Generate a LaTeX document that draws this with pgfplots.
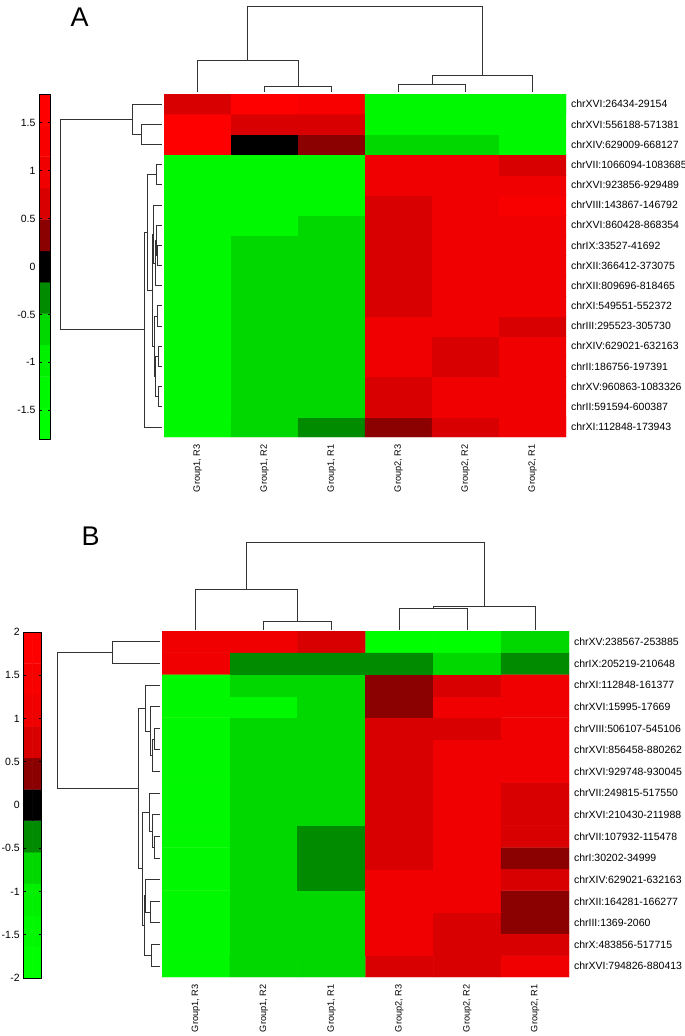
\documentclass[border=0pt]{standalone}
\usepackage{pgfplots}
\pgfplotsset{compat=1.18}
\usepackage{fontspec}
\setmainfont{Liberation Sans}
\setsansfont{Liberation Sans}
\pgfplotsset{
  colormap={rgsteps}{rgb255=(0,255,0) rgb255=(0,248,0) rgb255=(0,240,0) rgb255=(0,216,0) rgb255=(0,139,0) rgb255=(0,0,0) rgb255=(139,0,0) rgb255=(216,0,0) rgb255=(240,0,0) rgb255=(248,0,0) rgb255=(255,0,0)},
  hm/.style={scale only axis, anchor=north west, xmin=0, xmax=6,
    axis line style={draw=none}, major tick length=0pt, tick style={draw=none},
    colormap name=rgsteps, colormap access=piecewise constant,
    xtick={0.5,1.5,2.5,3.5,4.5,5.5},
    xticklabels={{Group1, R3},{Group1, R2},{Group1, R1},{Group2, R3},{Group2, R2},{Group2, R1}},
    xticklabel style={rotate=90, anchor=east, font=\fontsize{9.2}{11}\selectfont},
    xticklabel shift=4pt,
    yticklabel pos=right,
    yticklabel style={anchor=west, font=\fontsize{10.5}{12}\selectfont},
    yticklabel shift=1.5pt},
  cb/.style={scale only axis, anchor=north west, xmin=0, xmax=1, xtick=\empty,
    tick align=inside, major tick length=2.5pt, axis on top,
    axis line style={line width=0.7pt}, tick style={line width=0.6pt, black},
    yticklabel style={font=\fontsize{10.5}{12}\selectfont},
    colormap name=rgsteps, colormap access=piecewise constant},
  dend/.style={draw=black!80, line width=0.9pt}
}
\begin{document}
\begin{tikzpicture}
\path[use as bounding box] (0pt,0pt) rectangle (685pt,-1036pt);

% ---------------- Panel A heatmap ----------------
\begin{axis}[hm, at={(164pt,-94pt)}, width=402pt, height=343pt, ymin=0, ymax=17,
  point meta min=-1.8, point meta max=1.8,
  ytick={0.5,1.5,...,16.5},
  yticklabels={chrXI:112848-173943, chrII:591594-600387, chrXV:960863-1083326, chrII:186756-197391, chrXIV:629021-632163, chrIII:295523-305730, chrXI:549551-552372, chrXII:809696-818465, chrXII:366412-373075, chrIX:33527-41692, chrXVI:860428-868354, chrVIII:143867-146792, chrXVI:923856-929489, chrVII:1066094-1083685, chrXIV:629009-668127, chrXVI:556188-571381, chrXVI:26434-29154}]
\addplot[matrix plot*, mesh/cols=6, point meta=explicit] table[x=x, y=y, meta=c] {
x y c
0.5 0.5 -1.3
1.5 0.5 -0.65
2.5 0.5 -0.33
3.5 0.5 0.33
4.5 0.5 0.65
5.5 0.5 1.0
0.5 1.5 -1.3
1.5 1.5 -0.65
2.5 1.5 -0.65
3.5 1.5 0.65
4.5 1.5 1.0
5.5 1.5 1.0
0.5 2.5 -1.3
1.5 2.5 -0.65
2.5 2.5 -0.65
3.5 2.5 0.65
4.5 2.5 1.0
5.5 2.5 1.0
0.5 3.5 -1.3
1.5 3.5 -0.65
2.5 3.5 -0.65
3.5 3.5 1.0
4.5 3.5 0.65
5.5 3.5 1.0
0.5 4.5 -1.3
1.5 4.5 -0.65
2.5 4.5 -0.65
3.5 4.5 1.0
4.5 4.5 0.65
5.5 4.5 1.0
0.5 5.5 -1.3
1.5 5.5 -0.65
2.5 5.5 -0.65
3.5 5.5 1.0
4.5 5.5 1.0
5.5 5.5 0.65
0.5 6.5 -1.3
1.5 6.5 -0.65
2.5 6.5 -0.65
3.5 6.5 0.65
4.5 6.5 1.0
5.5 6.5 1.0
0.5 7.5 -1.3
1.5 7.5 -0.65
2.5 7.5 -0.65
3.5 7.5 0.65
4.5 7.5 1.0
5.5 7.5 1.0
0.5 8.5 -1.3
1.5 8.5 -0.65
2.5 8.5 -0.65
3.5 8.5 0.65
4.5 8.5 1.0
5.5 8.5 1.0
0.5 9.5 -1.3
1.5 9.5 -0.65
2.5 9.5 -0.65
3.5 9.5 0.65
4.5 9.5 1.0
5.5 9.5 1.0
0.5 10.5 -1.3
1.5 10.5 -1.3
2.5 10.5 -0.65
3.5 10.5 0.65
4.5 10.5 1.0
5.5 10.5 1.0
0.5 11.5 -1.3
1.5 11.5 -1.3
2.5 11.5 -1.3
3.5 11.5 0.65
4.5 11.5 1.0
5.5 11.5 1.3
0.5 12.5 -1.3
1.5 12.5 -1.3
2.5 12.5 -1.3
3.5 12.5 1.0
4.5 12.5 1.0
5.5 12.5 1.0
0.5 13.5 -1.3
1.5 13.5 -1.3
2.5 13.5 -1.3
3.5 13.5 1.0
4.5 13.5 1.0
5.5 13.5 0.65
0.5 14.5 1.65
1.5 14.5 0
2.5 14.5 0.33
3.5 14.5 -0.65
4.5 14.5 -0.65
5.5 14.5 -1.3
0.5 15.5 1.65
1.5 15.5 0.65
2.5 15.5 0.65
3.5 15.5 -1.3
4.5 15.5 -1.3
5.5 15.5 -1.3
0.5 16.5 0.65
1.5 16.5 1.65
2.5 16.5 1.3
3.5 16.5 -1.3
4.5 16.5 -1.3
5.5 16.5 -1.3
};
\end{axis}

% ---------------- Panel A colour bar ----------------
\begin{axis}[cb, at={(39pt,-94pt)}, width=11.5pt, height=345pt, ymin=-1.8, ymax=1.8,
  point meta min=-1.8, point meta max=1.8,
  ytick={-1.5,-1,-0.5,0,0.5,1,1.5}, yticklabels={-1.5,-1,-0.5,0,0.5,1,1.5}]
\addplot[matrix plot*, mesh/cols=2, point meta=explicit] table[x=x, y=y, meta=c] {
x y c
0.25 -1.6364 -1.6364
0.75 -1.6364 -1.6364
0.25 -1.3091 -1.3091
0.75 -1.3091 -1.3091
0.25 -0.9818 -0.9818
0.75 -0.9818 -0.9818
0.25 -0.6545 -0.6545
0.75 -0.6545 -0.6545
0.25 -0.3273 -0.3273
0.75 -0.3273 -0.3273
0.25 0 0
0.75 0 0
0.25 0.3273 0.3273
0.75 0.3273 0.3273
0.25 0.6545 0.6545
0.75 0.6545 0.6545
0.25 0.9818 0.9818
0.75 0.9818 0.9818
0.25 1.3091 1.3091
0.75 1.3091 1.3091
0.25 1.6364 1.6364
0.75 1.6364 1.6364
};
\end{axis}

% ---------------- Panel B heatmap ----------------
\begin{axis}[hm, at={(162pt,-631pt)}, width=407pt, height=346pt, ymin=0, ymax=16,
  point meta min=-2, point meta max=2,
  ytick={0.5,1.5,...,15.5},
  yticklabels={chrXVI:794826-880413, chrX:483856-517715, chrIII:1369-2060, chrXII:164281-166277, chrXIV:629021-632163, chrI:30202-34999, chrVII:107932-115478, chrXVI:210430-211988, chrVII:249815-517550, chrXVI:929748-930045, chrXVI:856458-880262, chrVIII:506107-545106, chrXVI:15995-17669, chrXI:112848-161377, chrIX:205219-210648, chrXV:238567-253885}]
\addplot[matrix plot*, mesh/cols=6, point meta=explicit] table[x=x, y=y, meta=c] {
x y c
0.5 0.5 -1.45
1.5 0.5 -0.73
2.5 0.5 -0.73
3.5 0.5 0.73
4.5 0.5 0.73
5.5 0.5 1.09
0.5 1.5 -1.45
1.5 1.5 -0.73
2.5 1.5 -0.73
3.5 1.5 1.09
4.5 1.5 0.73
5.5 1.5 0.73
0.5 2.5 -1.45
1.5 2.5 -0.73
2.5 2.5 -0.73
3.5 2.5 1.09
4.5 2.5 0.73
5.5 2.5 0.36
0.5 3.5 -1.45
1.5 3.5 -0.73
2.5 3.5 -0.73
3.5 3.5 1.09
4.5 3.5 1.09
5.5 3.5 0.36
0.5 4.5 -1.45
1.5 4.5 -0.73
2.5 4.5 -0.36
3.5 4.5 1.09
4.5 4.5 1.09
5.5 4.5 0.73
0.5 5.5 -1.45
1.5 5.5 -0.73
2.5 5.5 -0.36
3.5 5.5 0.73
4.5 5.5 1.09
5.5 5.5 0.36
0.5 6.5 -1.45
1.5 6.5 -0.73
2.5 6.5 -0.36
3.5 6.5 0.73
4.5 6.5 1.09
5.5 6.5 0.73
0.5 7.5 -1.45
1.5 7.5 -0.73
2.5 7.5 -0.73
3.5 7.5 0.73
4.5 7.5 1.09
5.5 7.5 0.73
0.5 8.5 -1.45
1.5 8.5 -0.73
2.5 8.5 -0.73
3.5 8.5 0.73
4.5 8.5 1.09
5.5 8.5 0.73
0.5 9.5 -1.45
1.5 9.5 -0.73
2.5 9.5 -0.73
3.5 9.5 0.73
4.5 9.5 1.09
5.5 9.5 1.09
0.5 10.5 -1.45
1.5 10.5 -0.73
2.5 10.5 -0.73
3.5 10.5 0.73
4.5 10.5 1.09
5.5 10.5 1.09
0.5 11.5 -1.45
1.5 11.5 -0.73
2.5 11.5 -0.73
3.5 11.5 0.73
4.5 11.5 0.73
5.5 11.5 1.09
0.5 12.5 -1.45
1.5 12.5 -1.45
2.5 12.5 -0.73
3.5 12.5 0.36
4.5 12.5 1.09
5.5 12.5 1.09
0.5 13.5 -1.45
1.5 13.5 -0.73
2.5 13.5 -0.73
3.5 13.5 0.36
4.5 13.5 0.73
5.5 13.5 1.09
0.5 14.5 1.09
1.5 14.5 -0.36
2.5 14.5 -0.36
3.5 14.5 -0.36
4.5 14.5 -0.73
5.5 14.5 -0.36
0.5 15.5 1.09
1.5 15.5 1.09
2.5 15.5 0.73
3.5 15.5 -1.82
4.5 15.5 -1.82
5.5 15.5 -0.73
};
\end{axis}

% ---------------- Panel B colour bar ----------------
\begin{axis}[cb, at={(23.3pt,-632pt)}, width=18.5pt, height=346pt, ymin=-2, ymax=2,
  point meta min=-2, point meta max=2,
  ytick={-2,-1.5,-1,-0.5,0,0.5,1,1.5,2}, yticklabels={-2,-1.5,-1,-0.5,0,0.5,1,1.5,2}]
\addplot[matrix plot*, mesh/cols=2, point meta=explicit] table[x=x, y=y, meta=c] {
x y c
0.25 -1.8182 -1.8182
0.75 -1.8182 -1.8182
0.25 -1.4545 -1.4545
0.75 -1.4545 -1.4545
0.25 -1.0909 -1.0909
0.75 -1.0909 -1.0909
0.25 -0.7273 -0.7273
0.75 -0.7273 -0.7273
0.25 -0.3636 -0.3636
0.75 -0.3636 -0.3636
0.25 0 0
0.75 0 0
0.25 0.3636 0.3636
0.75 0.3636 0.3636
0.25 0.7273 0.7273
0.75 0.7273 0.7273
0.25 1.0909 1.0909
0.75 1.0909 1.0909
0.25 1.4545 1.4545
0.75 1.4545 1.4545
0.25 1.8182 1.8182
0.75 1.8182 1.8182
};
\end{axis}

% ---------------- Dendrograms (page coordinates) ----------------
\begin{axis}[at={(0pt,0pt)}, anchor=north west, scale only axis, width=685pt, height=1036pt,
  xmin=0, xmax=685, ymin=0, ymax=1036, y dir=reverse, hide axis, clip=false]
% A, columns
\addplot[dend] coordinates {(264.5,92) (264.5,86) (331.5,86) (331.5,92)};
\addplot[dend] coordinates {(197.5,92) (197.5,60) (298,60) (298,86)};
\addplot[dend] coordinates {(398.5,92) (398.5,84.3) (465.5,84.3) (465.5,92)};
\addplot[dend] coordinates {(432,84.3) (432,75.7) (532.5,75.7) (532.5,92)};
\addplot[dend] coordinates {(247.75,60) (247.75,6.7) (482.25,6.7) (482.25,75.7)};
% A, rows
\addplot[dend] coordinates {(161.5,124.3) (141.7,124.3) (141.7,144.5) (161.5,144.5)};
\addplot[dend] coordinates {(161.5,104.1) (132.7,104.1) (132.7,134.4) (141.7,134.4)};
\addplot[dend] coordinates {(161.5,164.6) (156.7,164.6) (156.7,184.8) (161.5,184.8)};
\addplot[dend] coordinates {(161.5,245.4) (157.8,245.4) (157.8,265.6) (161.5,265.6)};
\addplot[dend] coordinates {(161.5,225.2) (156.8,225.2) (156.8,255.5) (157.8,255.5)};
\addplot[dend] coordinates {(156.8,240.35) (155.5,240.35) (155.5,285.7) (161.5,285.7)};
\addplot[dend] coordinates {(161.5,205) (153.3,205) (153.3,263) (155.5,263)};
\addplot[dend] coordinates {(161.5,305.9) (157.3,305.9) (157.3,326.1) (161.5,326.1)};
\addplot[dend] coordinates {(161.5,346.3) (158.3,346.3) (158.3,366.5) (161.5,366.5)};
\addplot[dend] coordinates {(161.5,386.6) (158.3,386.6) (158.3,406.8) (161.5,406.8)};
\addplot[dend] coordinates {(158.3,356.4) (155.7,356.4) (155.7,396.7) (158.3,396.7)};
\addplot[dend] coordinates {(157.3,316) (154,316) (154,376.55) (155.7,376.55)};
\addplot[dend] coordinates {(153.3,234) (152.5,234) (152.5,346.3) (154,346.3)};
\addplot[dend] coordinates {(156.7,174.7) (147.7,174.7) (147.7,290.15) (152.5,290.15)};
\addplot[dend] coordinates {(147.7,232.4) (144.3,232.4) (144.3,427) (161.5,427)};
\addplot[dend] coordinates {(132.7,119.25) (60.7,119.25) (60.7,329.7) (144.3,329.7)};
% B, columns
\addplot[dend] coordinates {(263.7,630) (263.7,621.3) (331.6,621.3) (331.6,630)};
\addplot[dend] coordinates {(195.9,630) (195.9,589.3) (297.65,589.3) (297.65,621.3)};
\addplot[dend] coordinates {(399.4,630) (399.4,608.3) (467.2,608.3) (467.2,630)};
\addplot[dend] coordinates {(433.3,608.3) (433.3,606.3) (535.1,606.3) (535.1,630)};
\addplot[dend] coordinates {(246.8,589.3) (246.8,542.7) (484.2,542.7) (484.2,606.3)};
% B, rows
\addplot[dend] coordinates {(160,641.8) (112.7,641.8) (112.7,663.4) (160,663.4)};
\addplot[dend] coordinates {(160,728.3) (154,728.3) (154,749.9) (160,749.9)};
\addplot[dend] coordinates {(154,739.1) (152.3,739.1) (152.3,771.6) (160,771.6)};
\addplot[dend] coordinates {(160,706.7) (150,706.7) (150,755.35) (152.3,755.35)};
\addplot[dend] coordinates {(160,685.1) (145.7,685.1) (145.7,731) (150,731)};
\addplot[dend] coordinates {(160,836.4) (154.3,836.4) (154.3,858.1) (160,858.1)};
\addplot[dend] coordinates {(160,814.8) (152.7,814.8) (152.7,847.25) (154.3,847.25)};
\addplot[dend] coordinates {(160,793.2) (149,793.2) (149,831) (152.7,831)};
\addplot[dend] coordinates {(160,901.3) (150.7,901.3) (150.7,922.9) (160,922.9)};
\addplot[dend] coordinates {(160,879.7) (145.7,879.7) (145.7,912.1) (150.7,912.1)};
\addplot[dend] coordinates {(160,944.6) (151.7,944.6) (151.7,966.2) (160,966.2)};
\addplot[dend] coordinates {(145.7,895.9) (144.3,895.9) (144.3,955.4) (151.7,955.4)};
\addplot[dend] coordinates {(149,812.1) (142.7,812.1) (142.7,925.65) (144.3,925.65)};
\addplot[dend] coordinates {(145.7,708.05) (138.3,708.05) (138.3,868.9) (142.7,868.9)};
\addplot[dend] coordinates {(112.7,652.6) (57.3,652.6) (57.3,788.5) (138.3,788.5)};
\end{axis}

\node[anchor=base west, inner sep=0pt, font=\fontsize{27}{30}\selectfont] at (70.5pt,-27pt) {A};
\node[anchor=base west, inner sep=0pt, font=\fontsize{27}{30}\selectfont] at (81.5pt,-545pt) {B};
\end{tikzpicture}
\end{document}
